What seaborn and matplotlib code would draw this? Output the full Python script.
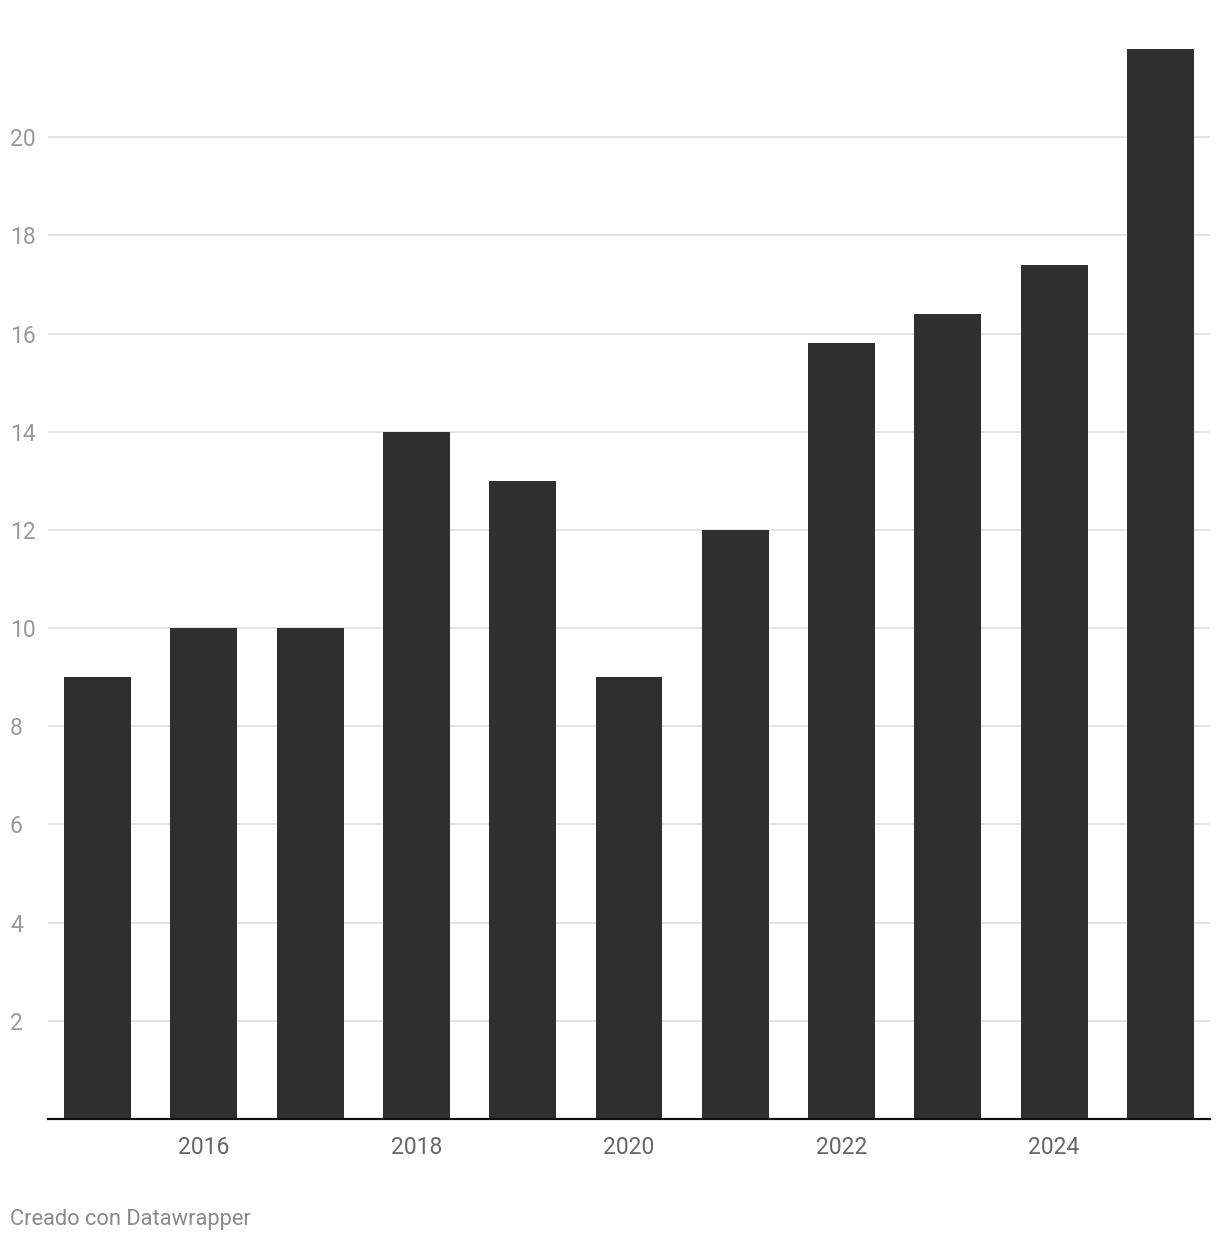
import matplotlib
matplotlib.use("Agg")
import matplotlib.pyplot as plt
import seaborn as sns
import pandas as pd

years = [2015, 2016, 2017, 2018, 2019, 2020, 2021, 2022, 2023, 2024, 2025]
values = [9, 10, 10, 14, 13, 9, 12, 15.8, 16.4, 17.4, 21.8]
x_tick_labels = ["2016", "2018", "2020", "2022", "2024"]
y_ticks = [2, 4, 6, 8, 10, 12, 14, 16, 18, 20]

sns.set_theme(style="white")
plt.rcParams['font.family'] = ['Roboto', 'DejaVu Sans']

df = pd.DataFrame({"year": [str(y) for y in years], "value": values})

W, H = 1220, 1242
fig = plt.figure(figsize=(W / 100, H / 100), dpi=100)
left, right, bottom_px, top_px = 48, 1210, 1119, 39
ax = fig.add_axes([left / W, (H - bottom_px) / H, (right - left) / W, (bottom_px - top_px) / H])

sns.barplot(data=df, x="year", y="value", color="#2f2f2f", saturation=1, width=0.63,
            linewidth=0, edgecolor="none", ax=ax, zorder=3)

ax.set_xlim(-0.466, 10.466)
ax.set_ylim(0, 22)
ax.set_yticks(y_ticks)
ax.set_yticklabels([str(t) for t in y_ticks])
ax.grid(axis="y", color="#e2e2e2", linewidth=1.3, zorder=0)
ax.grid(axis="x", visible=False)
ax.tick_params(axis="y", length=0, pad=27.4, labelsize=16.5, labelcolor="#9a9a9a")
for lbl in ax.get_yticklabels():
    lbl.set_horizontalalignment("left")

pos = [str(y) for y in years]
ax.set_xticks([pos.index(l) for l in x_tick_labels])
ax.set_xticklabels(x_tick_labels)
ax.tick_params(axis="x", length=0, pad=12, labelsize=16.5, labelcolor="#666666")

for s in ["top", "right", "left"]:
    ax.spines[s].set_visible(False)
ax.spines["bottom"].set_color("#111111")
ax.spines["bottom"].set_linewidth(1.6)
ax.spines["bottom"].set_zorder(5)
ax.set_xlabel("")
ax.set_ylabel("")

fig.text(10 / W, 1 - 1219 / H, "Creado con Datawrapper", fontsize=15.75, color="#8a8a8a",
         ha="left", va="center")

fig.savefig("out.png", dpi=100, facecolor="white")
